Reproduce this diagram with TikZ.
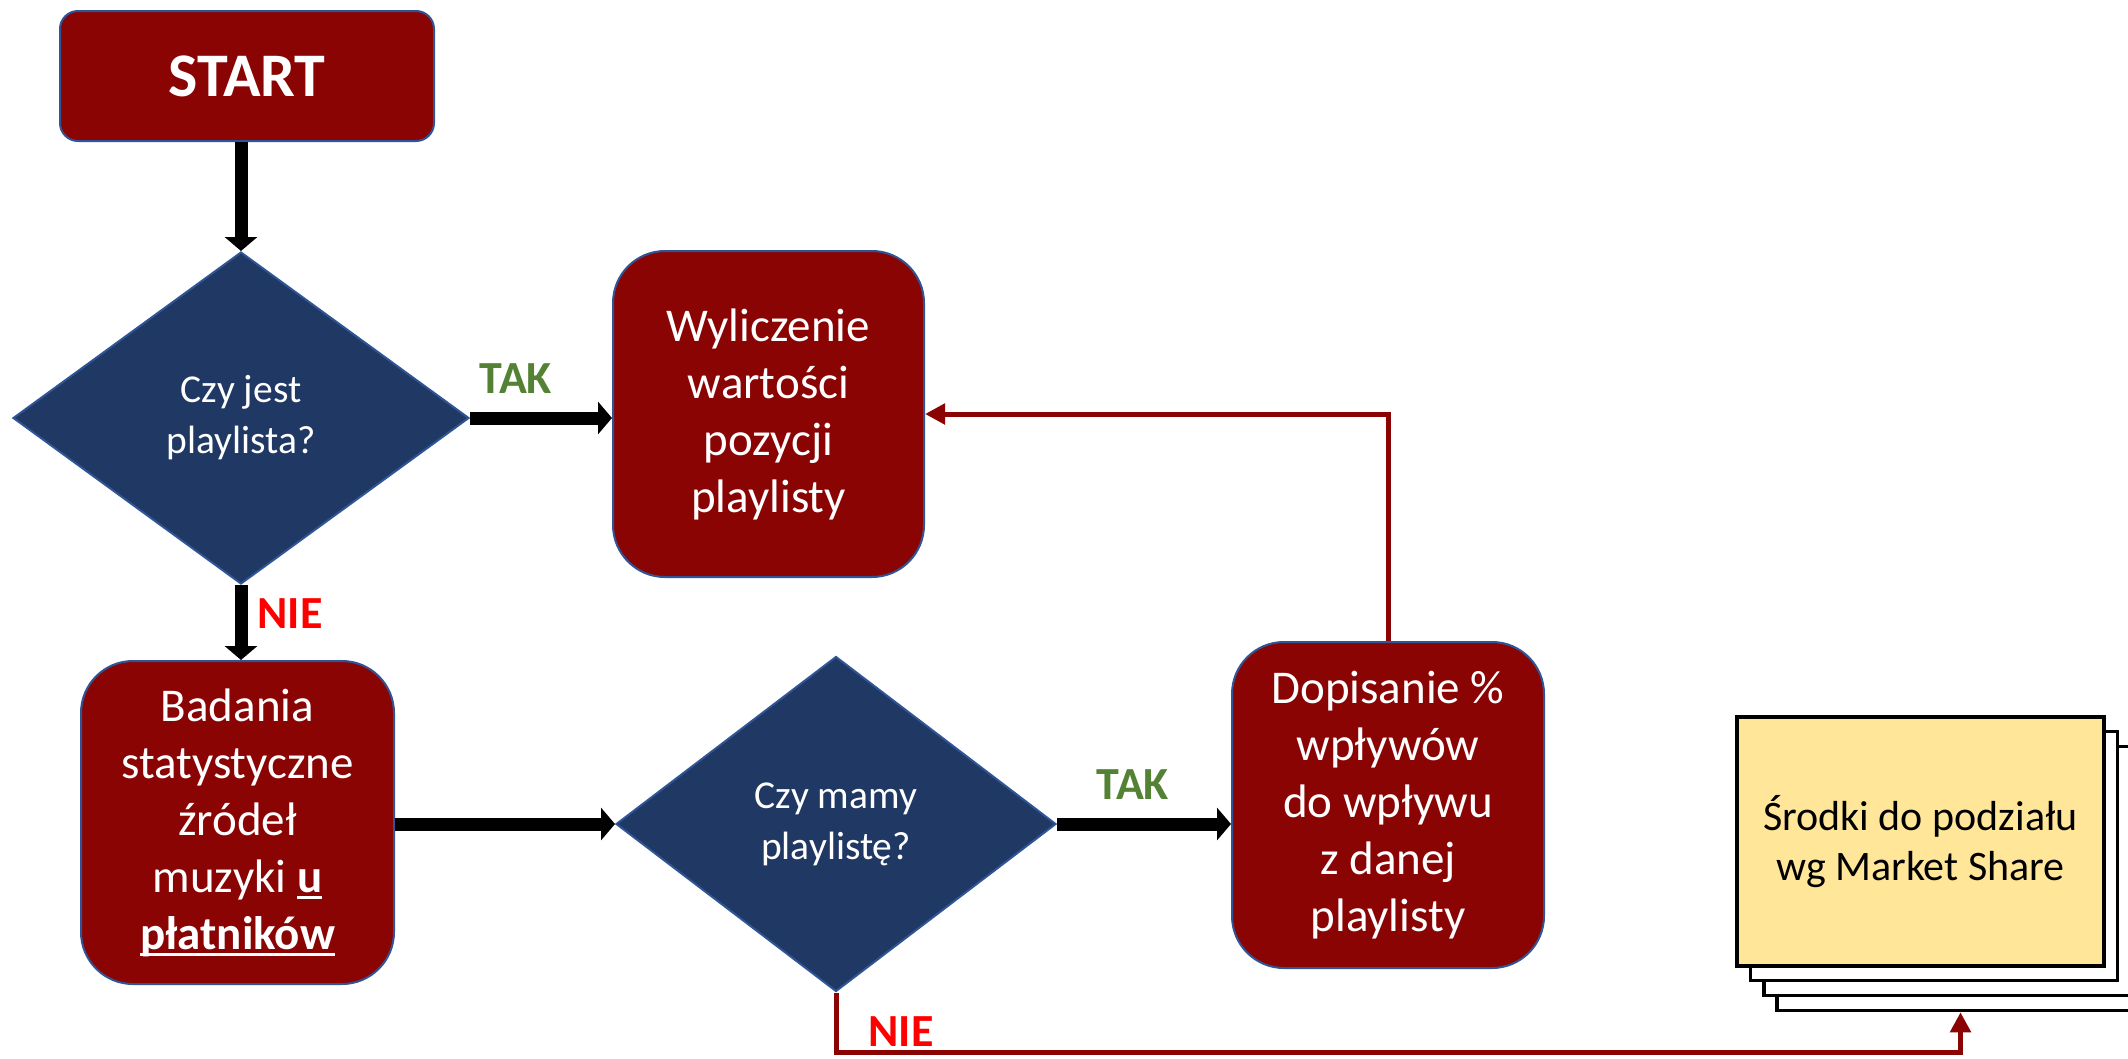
\documentclass[tikz,border=0pt]{standalone}
\usepackage{fontspec}
\setmainfont{Carlito}
\usetikzlibrary{shapes.geometric,arrows.meta,calc}
\definecolor{darkred}{RGB}{139,4,4}
\definecolor{boxblue}{RGB}{47,85,151}
\definecolor{navyfill}{RGB}{32,56,100}
\definecolor{takgreen}{RGB}{84,130,53}
\definecolor{niered}{RGB}{255,0,0}
\definecolor{sheetyellow}{RGB}{255,230,153}
\newcommand{\myul}[1]{\setbox0\hbox{#1}\rlap{\rule[-7pt]{\wd0}{3pt}}\box0}
\tikzset{
  procbox/.style={draw=boxblue, line width=2pt, fill=darkred, rounded corners=52pt,
    text=white, align=center, inner sep=0pt, font=\fontsize{47}{57}\selectfont},
  decision/.style={diamond, draw=boxblue, line width=2pt, fill=navyfill, text=white,
    align=center, inner sep=0pt, font=\fontsize{39.5}{51}\selectfont},
  blackarrow/.style={draw=black, line width=13pt, -{Triangle[length=14pt,width=32pt]}},
  redarrow/.style={draw=darkred, line width=5pt, -{Triangle[length=20pt,width=20pt]}},
  yeslabel/.style={text=takgreen, font=\bfseries\fontsize{46}{50}\selectfont, inner sep=0pt},
  nolabel/.style={text=niered, font=\bfseries\fontsize{46}{50}\selectfont, inner sep=0pt},
  sheet/.style={draw=black, line width=3.5pt, fill=white, minimum width=367pt,
    minimum height=249pt, inner sep=0pt},
}
\begin{document}
\begin{tikzpicture}[x=1pt,y=-1pt]
\useasboundingbox (0,0) rectangle (2128,1058);
\clip (0,0) rectangle (2128,1058);

% nodes
\node[procbox, rounded corners=18pt, minimum width=374pt, minimum height=130pt,
      font=\bfseries\fontsize{62}{70}\selectfont] (start) at (247,76) {START};
\node[decision, minimum width=456pt, minimum height=332pt] (d1) at (241,418)
      {Czy jest\\playlista?};
\node[procbox, minimum width=311pt, minimum height=326pt] (wyl) at (768.5,414)
      {Wyliczenie\\wartości\\pozycji\\playlisty};
\node[procbox, minimum width=313pt, minimum height=323pt] (bad) at (237.5,822.5)
      {Badania\\statystyczne\\źródeł\\muzyki \textbf{\myul{u}}\\\textbf{\myul{płatników}}};
\node[decision, minimum width=440pt, minimum height=335pt] (d2) at (836,824)
      {Czy mamy\\playlistę?};
\node[procbox, minimum width=312pt, minimum height=326pt] (dop) at (1388,805)
      {Dopisanie \%\\wpływów\\do wpływu\\z danej\\playlisty};

% stacked sheets (back to front)
\node[sheet] (stack3) at (1960.5,886) {};
\node[sheet] (stack2) at (1947.5,871) {};
\node[sheet] (stack1) at (1934,856) {};
\node[sheet, fill=sheetyellow, align=center, text=black,
      font=\fontsize{42}{50}\selectfont] (stack0) at (1920.5,841.5)
      {Środki do podziału\\wg Market Share};

% labels
\node[yeslabel] (tak1) at (516,379) {TAK};
\node[nolabel] (nie1) at (290,614) {NIE};
\node[yeslabel] (tak2) at (1133,785) {TAK};
\node[nolabel] (nie2) at (901,1032) {NIE};

% connectors
\draw[blackarrow] (start.south -| d1.north) -- (d1.north);
\draw[blackarrow] (d1.east) -- (d1.east -| wyl.west);
\draw[blackarrow] (d1.south) -- (d1.south |- bad.north);
\draw[blackarrow] (bad.east |- d2.west) -- (d2.west);
\draw[blackarrow] (d2.east) -- (d2.east -| dop.west);
\draw[redarrow] (dop.north) |- (wyl.east);
\coordinate (nieend) at (stack3.south |- 0,1052);
\draw[redarrow] (d2.south) |- (nieend) -- (stack3.south);
\end{tikzpicture}
\end{document}
